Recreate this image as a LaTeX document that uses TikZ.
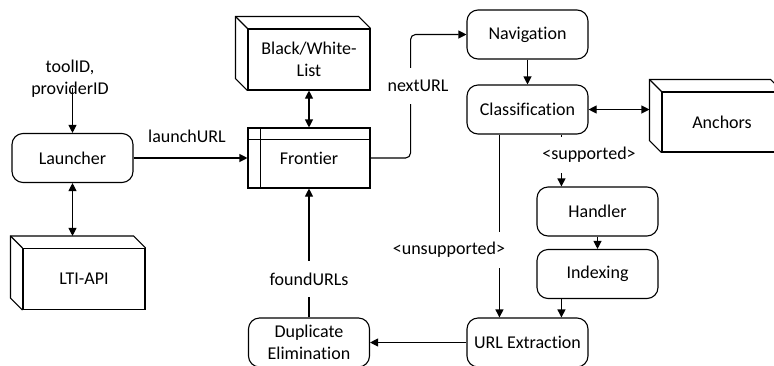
\documentclass[tikz,border=0pt]{standalone}
\usepackage{fontspec}
\setmainfont{Carlito}[Ligatures=NoCommon]
\usetikzlibrary{arrows.meta,calc}

\tikzset{
  tip/.tip={Triangle[length=8pt,width=8pt]},
  conn/.style={line width=1.1pt},
  arr/.style={conn,-tip},
  darr/.style={conn,tip-tip},
  proc/.style={draw,line width=1.1pt,rounded corners=11pt,minimum width=121pt,
    minimum height=49pt,inner sep=0pt,align=center},
  front/.style={draw,line width=1.1pt,minimum width=122pt,minimum height=61pt,
    inner sep=0pt,align=center},
  lbl/.style={fill=white,inner xsep=3pt,inner ysep=0pt,minimum height=36pt},
}

% outline of a box drawn in perspective: back edges offset up and left
\newcommand{\cubeback}[1]{%
  \draw[line width=1.1pt,line join=miter]
    (#1.south west) -- ++(-12,-12) -- ($(#1.north west)+(-12,-12)$)
    -- ($(#1.north east)+(-12,-12)$) -- (#1.north east);
  \draw[line width=1.1pt] (#1.north west) -- ++(-12,-12);
}

\begin{document}
\begin{tikzpicture}[x=1pt,y=-1pt,font=\fontsize{18}{22}\selectfont]
\useasboundingbox (0,0) rectangle (774,365);
\clip (0,0) rectangle (774,365);

% process steps
\node[proc] (launcher) at (72.5,158) {Launcher};
\node[proc] (nav) at (527.5,34.5) {Navigation};
\node[proc] (cls) at (527.5,109.5) {Classification};
\node[proc] (handler) at (597.5,211.5) {Handler};
\node[proc] (indexing) at (597.5,274) {Indexing};
\node[proc] (urlx) at (527.5,342.5) {URL Extraction};
\node[proc] (dup) at (309,342.5) {Duplicate\\Elimination};

% data stores
\node[front] (lti) at (84,279) {LTI-API};
\node[front] (bw) at (309,59.5) {Black/White-\\List};
\node[front,minimum width=120pt,minimum height=60pt] (anchors) at (722,122) {Anchors};
\cubeback{lti}
\cubeback{bw}
\cubeback{anchors}
\coordinate (ltiback) at ($(lti.north west)+(-12,-12)$);
\coordinate (anchback) at ($(anchors.north west)+(-12,-12)$);

% frontier queue
\node[front,minimum height=60pt] (frontier) at (309,158) {Frontier};
\draw[line width=1.1pt] ($(frontier.north west)+(13,0)$) -- ($(frontier.south west)+(13,0)$);
\draw[line width=1.1pt] ($(frontier.north west)+(0,12)$) -- ($(frontier.north east)+(0,12)$);

% input
\node[align=center,inner sep=0pt] (tool) at (70,79) {toolID,\\providerID};

% connectors
\coordinate (supin) at ($(handler.north west)+(25,0)$);
\coordinate (unsup) at ($(cls.south west)+(33,0)$);

\draw[arr] ([yshift=10pt]tool.south -| launcher.north) -- (launcher.north);
\draw[darr] (launcher.south) -- (launcher.south |- ltiback);
\draw[arr] (launcher.east) -- (frontier.west);
\draw[darr] (bw.south) -- (frontier.north);
\draw[arr,rounded corners=5pt] (frontier.east) -- ++(40,0) |- (nav.west);
\draw[arr] (nav.south) -- (cls.north);
\draw[darr] (cls.east) -- (cls.east -| anchback);
\draw[arr] (supin |- cls.south) -- (supin);
\draw[arr] (handler.south) -- (indexing.north);
\draw[arr] (supin |- indexing.south) -- (supin |- urlx.north);
\draw[arr] (unsup) -- (unsup |- urlx.north);
\draw[arr] (urlx.west) -- (dup.east);
\draw[arr] (dup.north) -- (frontier.south);

% connector labels
\node (l1) at (187,136) {launchURL};
\node[lbl] (l2) at (418,86) {nextURL};
\node[lbl] (l3) at (589,155) {<supported>};
\node[lbl] (l4) at (449,250) {<unsupported>};
\node[lbl] (l5) at (309,279) {foundURLs};
\end{tikzpicture}
\end{document}
